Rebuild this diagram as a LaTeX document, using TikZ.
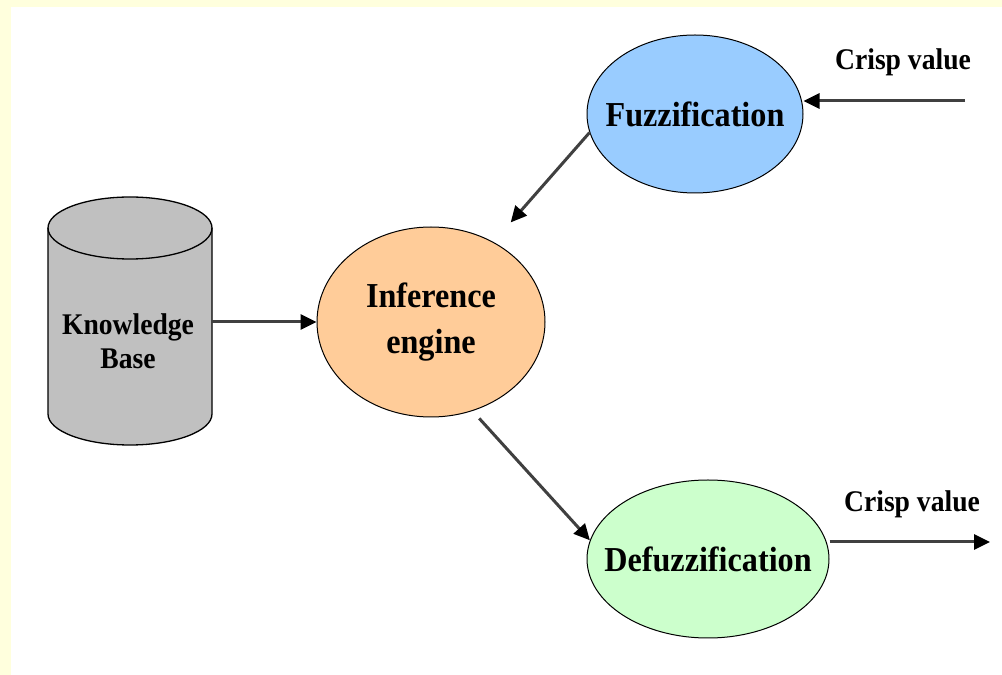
\documentclass[tikz,border=0pt]{standalone}
\usepackage{fontspec}
\setmainfont{Liberation Serif}
\newfontfamily\condserif[FakeStretch=0.92]{Liberation Serif}
\usetikzlibrary{shapes.geometric,arrows.meta}
\definecolor{bgyellow}{HTML}{FFFFDD}
\definecolor{kbgray}{HTML}{C0C0C0}
\definecolor{infpeach}{HTML}{FFCC99}
\definecolor{fuzblue}{HTML}{99CCFF}
\definecolor{defgreen}{HTML}{CCFFCC}
\definecolor{linegray}{HTML}{404040}
\tikzset{
  x=1pt, y=1pt,
  oval/.style={ellipse, draw=black, line width=1pt, inner sep=0pt},
  bigtext/.style={font=\condserif\bfseries\fontsize{35}{46}\selectfont, align=center},
  smalltext/.style={font=\condserif\bfseries\fontsize{30}{34}\selectfont, align=center},
  flow/.style={draw=linegray, line width=3pt,
    -{Triangle[length=16pt,width=15pt,color=black]}},
}
\begin{document}
\begin{tikzpicture}
\useasboundingbox (0,0) rectangle (1002,675);
\fill[white] (0,0) rectangle (1002,675);
\fill[bgyellow] (0,668) rectangle (1002,675);
\fill[bgyellow] (0,0) rectangle (11,675);

% Knowledge base cylinder
\fill[kbgray] (48,447) -- (48,261) arc (180:360:82 and 31) -- (212,447) arc (0:180:82 and 31) -- cycle;
\draw[black, line width=1.3pt] (48,447) -- (48,261) arc (180:360:82 and 31) -- (212,447);
\draw[black, line width=1.3pt] (130,447) ellipse (82 and 31);
\node[minimum width=164pt, minimum height=186pt, inner sep=0pt] (kb) at (130,353) {};
\node[smalltext] (kbt) at (128,334) {Knowledge\\Base};

% Ellipses
\node[oval, fill=infpeach, minimum width=228pt, minimum height=190pt,
  label={[bigtext]center:Inference\\engine}] (inf) at (431,353) {};
\node[oval, fill=fuzblue, minimum width=216pt, minimum height=158pt,
  label={[bigtext]center:Fuzzification}] (fuz) at (695,561) {};
\node[oval, fill=defgreen, minimum width=242pt, minimum height=158pt,
  label={[bigtext]center:Defuzzification}] (def) at (708,116) {};

% Crisp values
\coordinate (cin) at (965,574);
\coordinate (cout) at (990,133);
\node[smalltext] (lin) at (903,613) {Crisp value};
\node[smalltext] (lout) at (912,171) {Crisp value};

% Connectors
\draw[flow] (cin) -- (fuz.east |- cin);
\draw[flow, shorten >=26pt] (fuz.190) -- (inf.52);
\draw[flow] (kb.east) -- (inf.west);
\draw[flow, shorten <=10pt] (inf.-65) -- (def.171);
\draw[flow] (def.east |- cout) -- (cout);
\end{tikzpicture}
\end{document}
